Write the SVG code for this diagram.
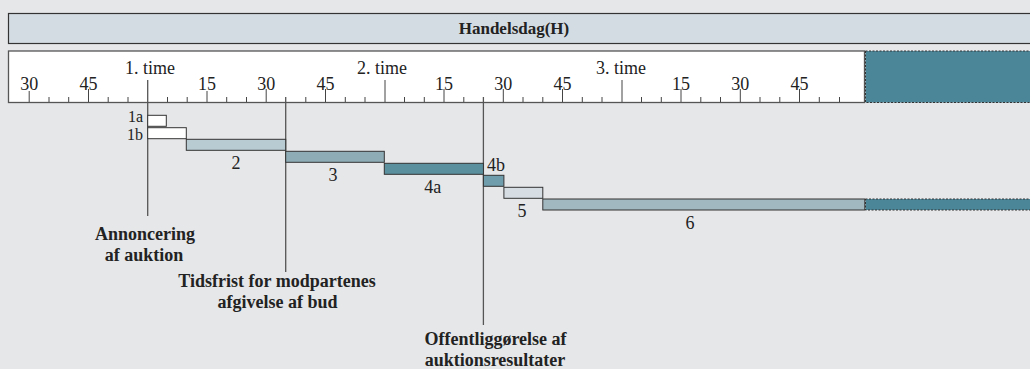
<svg xmlns="http://www.w3.org/2000/svg" width="1030" height="369" viewBox="0 0 1030 369" font-family="'Liberation Serif', 'DejaVu Serif', serif">
<style>
text{font-family:'Liberation Serif','DejaVu Serif',serif;fill:#222}
.num{font-size:18px;text-anchor:middle}
.lbl{font-size:18px}
.ann{font-size:18px;font-weight:bold;text-anchor:middle}
.bar{stroke:#333;stroke-width:1}
.tick{stroke:#444;stroke-width:1}
.vline{stroke:#555;stroke-width:1.3}
.dash{stroke:#333;stroke-width:1;stroke-dasharray:2 1.5}
</style>
<rect x="0" y="0" width="1030" height="369" fill="#e6e7e9"/>
<g id="header">
<rect x="8.5" y="13.5" width="1030" height="30" fill="#d4dce3" stroke="#333" stroke-width="1.2"/>
<text x="514" y="33.5" class="ann" style="font-size:17px">Handelsdag(H)</text>
</g>
<g id="ruler">
<rect x="8.5" y="51" width="856" height="51.5" fill="#fff" stroke="#555" stroke-width="1.3"/>
<rect x="865.5" y="51" width="170" height="51.5" fill="#4b8698" class="dash"/>
<g class="tick">
<line x1="29.2" y1="91" x2="29.2" y2="102"/>
<line x1="49" y1="97" x2="49" y2="102"/>
<line x1="68.7" y1="97" x2="68.7" y2="102"/>
<line x1="88.5" y1="89" x2="88.5" y2="102"/>
<line x1="108.2" y1="97" x2="108.2" y2="102"/>
<line x1="128" y1="97" x2="128" y2="102"/>
<line x1="167.5" y1="97" x2="167.5" y2="102"/>
<line x1="187.2" y1="97" x2="187.2" y2="102"/>
<line x1="207" y1="91" x2="207" y2="102"/>
<line x1="226.7" y1="97" x2="226.7" y2="102"/>
<line x1="246.5" y1="97" x2="246.5" y2="102"/>
<line x1="266.2" y1="89" x2="266.2" y2="102"/>
<line x1="305.8" y1="97" x2="305.8" y2="102"/>
<line x1="325.5" y1="89" x2="325.5" y2="102"/>
<line x1="345.3" y1="97" x2="345.3" y2="102"/>
<line x1="365" y1="97" x2="365" y2="102"/>
<line x1="385" y1="80" x2="385" y2="102"/>
<line x1="404.5" y1="97" x2="404.5" y2="102"/>
<line x1="424.3" y1="97" x2="424.3" y2="102"/>
<line x1="444" y1="89" x2="444" y2="102"/>
<line x1="463.8" y1="97" x2="463.8" y2="102"/>
<line x1="503.3" y1="89" x2="503.3" y2="102"/>
<line x1="523" y1="97" x2="523" y2="102"/>
<line x1="542.8" y1="97" x2="542.8" y2="102"/>
<line x1="562.5" y1="89" x2="562.5" y2="102"/>
<line x1="582.3" y1="97" x2="582.3" y2="102"/>
<line x1="602" y1="97" x2="602" y2="102"/>
<line x1="622" y1="80" x2="622" y2="102"/>
<line x1="641.5" y1="97" x2="641.5" y2="102"/>
<line x1="661.3" y1="97" x2="661.3" y2="102"/>
<line x1="681" y1="89" x2="681" y2="102"/>
<line x1="700.8" y1="97" x2="700.8" y2="102"/>
<line x1="720.5" y1="97" x2="720.5" y2="102"/>
<line x1="740.3" y1="89" x2="740.3" y2="102"/>
<line x1="760" y1="97" x2="760" y2="102"/>
<line x1="779.8" y1="97" x2="779.8" y2="102"/>
<line x1="799.5" y1="89" x2="799.5" y2="102"/>
<line x1="819.3" y1="97" x2="819.3" y2="102"/>
<line x1="839.5" y1="97" x2="839.5" y2="102"/>
</g>
<text x="29.2" y="89.5" class="num">30</text>
<text x="88.5" y="89.5" class="num">45</text>
<text x="207" y="89.5" class="num">15</text>
<text x="266.2" y="89.5" class="num">30</text>
<text x="325.5" y="89.5" class="num">45</text>
<text x="444" y="89.5" class="num">15</text>
<text x="503.3" y="89.5" class="num">30</text>
<text x="562.5" y="89.5" class="num">45</text>
<text x="681" y="89.5" class="num">15</text>
<text x="740.3" y="89.5" class="num">30</text>
<text x="799.5" y="89.5" class="num">45</text>
<text x="150" y="74" class="num">1. time</text>
<text x="382" y="74" class="num">2. time</text>
<text x="621" y="74" class="num">3. time</text>
</g>
<g id="connectors">
<line x1="147.7" y1="80" x2="147.7" y2="216" class="vline" stroke="#777"/>
<line x1="285.7" y1="97" x2="285.7" y2="272" class="vline"/>
<line x1="483.4" y1="97" x2="483.4" y2="325" class="vline"/>
</g>
<g id="task-1a">
<rect x="147.7" y="115.3" width="18.6" height="11" fill="#fff" class="bar"/>
<text x="143" y="121.5" class="lbl" text-anchor="end" style="font-size:16px">1a</text>
</g>
<g id="task-1b">
<rect x="147.7" y="127.7" width="38.6" height="11" fill="#fff" class="bar"/>
<text x="143" y="139.5" class="lbl" text-anchor="end" style="font-size:16px">1b</text>
</g>
<g id="task-2">
<rect x="186.3" y="139.3" width="99.4" height="11" fill="#b8cad2" class="bar"/>
<text x="236" y="169" class="num">2</text>
</g>
<g id="task-3">
<rect x="285.7" y="151.3" width="98.6" height="11" fill="#8eacb6" class="bar"/>
<text x="333" y="181" class="num">3</text>
</g>
<g id="task-4a">
<rect x="384.3" y="163.3" width="99.1" height="11" fill="#5b909f" class="bar"/>
<text x="432.7" y="192.5" class="num">4a</text>
</g>
<g id="task-4b">
<rect x="483.4" y="175.3" width="20.5" height="11" fill="#6f9dab" class="bar"/>
<text x="487" y="170.5" class="lbl">4b</text>
</g>
<g id="task-5">
<rect x="503.9" y="187.3" width="38.9" height="11" fill="#d6dee4" class="bar"/>
<text x="522" y="216.5" class="num">5</text>
</g>
<g id="task-6">
<rect x="542.8" y="199" width="322" height="11" fill="#a1b8c1" class="bar"/>
<rect x="865.5" y="199" width="170" height="11" fill="#4b8698" class="dash"/>
<text x="690" y="229" class="num">6</text>
</g>
<g id="note-annoncering">
<text x="145" y="239.5" class="ann">Annoncering</text>
<text x="144" y="260.5" class="ann">af auktion</text>
</g>
<g id="note-tidsfrist">
<text x="277" y="287" class="ann">Tidsfrist for modpartenes</text>
<text x="277.5" y="308" class="ann">afgivelse af bud</text>
</g>
<g id="note-offentlig">
<text x="495.5" y="345" class="ann">Offentliggørelse af</text>
<text x="495" y="365.5" class="ann">auktionsresultater</text>
</g>
</svg>
